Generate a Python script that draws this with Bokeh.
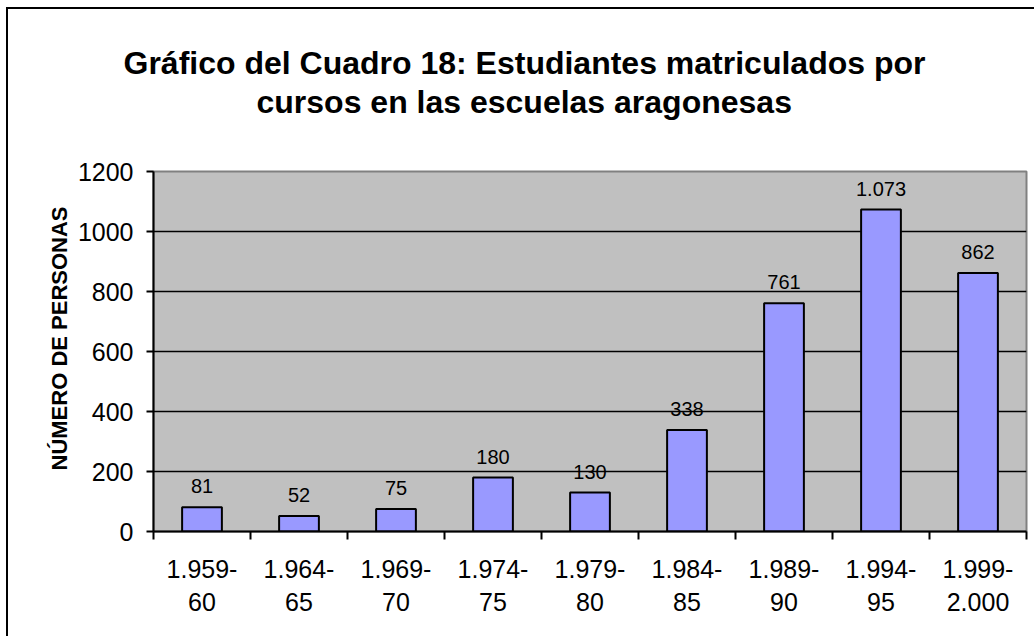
from bokeh.plotting import figure
from bokeh.models import Range1d, FixedTicker, Title, ColumnDataSource
from bokeh.core.properties import value
from bokeh.embed import file_html
from bokeh.resources import INLINE

# ---- data ----
categories = ["1.959-\n60", "1.964-\n65", "1.969-\n70", "1.974-\n75", "1.979-\n80",
              "1.984-\n85", "1.989-\n90", "1.994-\n95", "1.999-\n2.000"]
students = [81, 52, 75, 180, 130, 338, 761, 1073, 862]
y_ticks = [0, 200, 400, 600, 800, 1000, 1200]
title_lines = ["Gráfico del Cuadro 18: Estudiantes matriculados por",
               "cursos en las escuelas aragonesas"]
y_title = "NÚMERO DE PERSONAS"

FONT = "Liberation Sans"

xpos = list(range(1, len(categories) + 1))
bounds = [i + 0.5 for i in range(0, len(categories) + 1)]
labels = [f"{v:,}".replace(",", ".") for v in students]
src = ColumnDataSource(dict(x=xpos, y=students, lab=labels))

p = figure(width=1028, height=629, output_backend="svg", toolbar_location=None,
           x_range=Range1d(0.5, len(categories) + 0.5), y_range=Range1d(0, 1200))
p.styles = {"margin-left": "6px", "margin-top": "7px",
            "border-left": "2px solid black", "border-top": "2px solid black"}
p.min_border_left = 145
p.min_border_right = 10
p.min_border_top = 162
p.min_border_bottom = 107
p.background_fill_color = "#C0C0C0"
p.border_fill_color = "white"
p.outline_line_color = "#808080"
p.outline_line_width = 2

# bars
p.vbar(x="x", top="y", width=0.41, bottom=0, source=src,
       fill_color="#9999FF", line_color="black", line_width=2)

# value labels
p.text(x="x", y="y", text="lab", source=src, text_align="center",
       text_baseline="alphabetic", y_offset=-21,
       text_font=value(FONT), text_font_size="20px", text_color="black")

# x axis
xa = p.xaxis[0]
xa.ticker = FixedTicker(ticks=xpos, minor_ticks=bounds)
xa.major_label_overrides = {i: c for i, c in zip(xpos, categories)}
xa.major_tick_out = 0
xa.major_tick_in = 0
xa.minor_tick_out = 8
xa.minor_tick_in = 0
xa.minor_tick_line_color = "black"
xa.minor_tick_line_width = 2
xa.axis_line_color = "black"
xa.axis_line_width = 2
xa.major_label_standoff = 15
xa.major_label_text_font = FONT
xa.major_label_text_font_size = "25px"
xa.major_label_text_color = "black"
xa.major_label_text_line_height = 1.2

# y axis
ya = p.yaxis[0]
ya.ticker = FixedTicker(ticks=y_ticks)
ya.major_tick_out = 7
ya.major_tick_in = 0
ya.major_tick_line_color = "black"
ya.major_tick_line_width = 2
ya.minor_tick_line_color = None
ya.axis_line_color = "black"
ya.axis_line_width = 2
ya.major_label_standoff = 13
ya.major_label_text_font = FONT
ya.major_label_text_font_size = "25px"
ya.major_label_text_color = "black"

# grid
p.xgrid.grid_line_color = None
p.ygrid.ticker = FixedTicker(ticks=y_ticks[1:-1])
p.ygrid.grid_line_color = "black"
p.ygrid.grid_line_width = 1.5

# chart title: two lines, centred on the whole chart area
p.title = None
p.add_layout(Title(text=title_lines[1] + "\n ", align="left", offset=103, standoff=2,
                   text_font=FONT, text_font_size="32px", text_font_style="bold",
                   text_line_height=1.4, text_color="black"), "above")
p.add_layout(Title(text=title_lines[0], align="left", offset=-30, standoff=2,
                   text_font=FONT, text_font_size="32px", text_font_style="bold",
                   text_color="black"), "above")

# y axis title
p.add_layout(Title(text=y_title, align="left", offset=61, standoff=6,
                   text_font=FONT, text_font_size="22px", text_font_style="bold",
                   text_color="black"), "left")

open("out.html", "w").write(file_html(p, INLINE))
